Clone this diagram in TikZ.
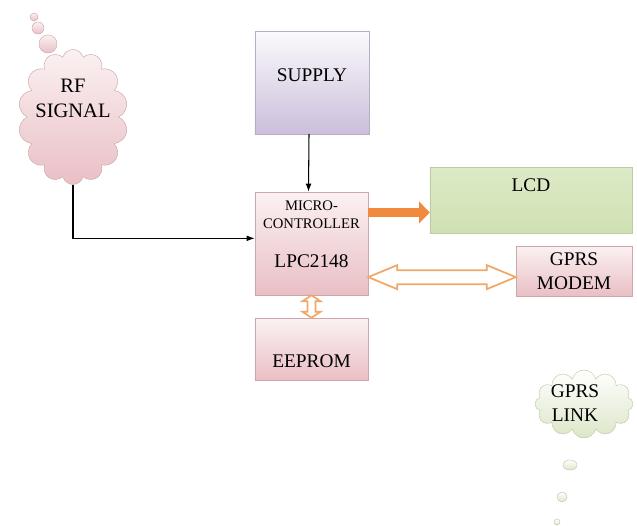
\documentclass[tikz,border=0pt]{standalone}
\usepackage{fontspec}
\setmainfont{Liberation Serif}
\newfontfamily\tnr{Liberation Serif}
\usetikzlibrary{shapes.symbols, arrows.meta, calc}
\definecolor{pinktop}{HTML}{FBF1F2}
\definecolor{pinkbot}{HTML}{E9BFC5}
\definecolor{pinkline}{HTML}{C9A9AC}
\definecolor{lavtop}{HTML}{FBFAFC}
\definecolor{lavbot}{HTML}{CBBEDB}
\definecolor{lavline}{HTML}{B8AEC4}
\definecolor{lcdtop}{HTML}{DCEAC6}
\definecolor{lcdmid}{HTML}{EEF5E2}
\definecolor{lcdbot}{HTML}{CFE1B3}
\definecolor{greenline}{HTML}{BCCBA6}
\definecolor{cloudgreen}{HTML}{DCE6C8}
\definecolor{arrorange}{HTML}{EF8A3E}
\definecolor{hollow}{HTML}{F0A868}

\tikzset{
  blk/.style={draw=pinkline, top color=pinktop, bottom color=pinkbot, inner sep=0pt,
    font=\tnr\fontsize{16.5}{20}\selectfont, align=center},
  txt/.style={anchor=north, inner sep=0pt, font=\tnr\fontsize{16.5}{20}\selectfont, align=center},
  wire/.style={-{Latex[length=7pt,width=5pt]}, line width=0.9pt},
  fat/.style={draw=arrorange, line width=8pt, -{Triangle[length=9pt,width=18pt]}},
  hollowarr/.style={draw=hollow, line width=1.5pt, fill=white, line join=miter},
  pinkcloud/.style={cloud, cloud puffs=14, draw=pinkline, top color=pinktop, bottom color=pinkbot},
  greencloud/.style={cloud, cloud puffs=12, draw=greenline, top color=white, bottom color=cloudgreen}
}

\begin{document}
\begin{tikzpicture}[x=0.03cm, y=-0.03cm]
  \useasboundingbox (0,0) rectangle (637,525);

  \node[pinkcloud, aspect=0.81, minimum width=3.3cm, minimum height=4.05cm,
    label={[txt,font=\tnr\fontsize{17.5}{21}\selectfont,yshift=-0.9cm]north:{RF\\SIGNAL}}] (rf) at (73,117) {};
  \draw[draw=pinkline, top color=pinktop, bottom color=pinkbot] (48,44) circle (9);
  \draw[draw=pinkline, top color=pinktop, bottom color=pinkbot] (38,28) circle (6);
  \draw[draw=pinkline, top color=pinktop, bottom color=pinkbot] (34,17) circle (4);

  \node[blk, draw=lavline, top color=lavtop, bottom color=lavbot, minimum width=3.42cm, minimum height=3.09cm,
    label={[txt,yshift=-1.14cm]north:SUPPLY}] (sup) at (312,82.5) {};
  \node[blk, minimum width=3.39cm, minimum height=3.09cm,
    label={[txt,font=\tnr\fontsize{12.5}{15}\selectfont,yshift=-0.27cm]north:{MICRO-\\CONTROLLER}},
    label={[txt,yshift=-1.89cm]north:LPC2148}] (mc) at (311.5,243.5) {};
  \node[blk, minimum width=3.39cm, minimum height=1.86cm,
    label={[txt,anchor=south,yshift=0.36cm]south:EEPROM}] (ee) at (311.5,349) {};
  \node[blk, draw=greenline, top color=lcdtop, middle color=lcdmid, bottom color=lcdbot,
    minimum width=6.06cm, minimum height=1.98cm,
    label={[txt,yshift=-0.36cm]north:LCD}] (lcd) at (531,200) {};
  \node[blk, minimum width=3.48cm, minimum height=1.5cm] (gprs) at (574,271) {GPRS\\MODEM};

  \node[greencloud, aspect=1.44, minimum width=2.94cm, minimum height=2.04cm,
    label={[txt,xshift=-0.27cm,yshift=-0.45cm]north:{GPRS\\LINK}}] (link) at (584,404) {};
  \draw[draw=greenline, top color=white, bottom color=cloudgreen] (570,465) ellipse (7 and 5);
  \draw[draw=greenline, top color=white, bottom color=cloudgreen] (562,497) circle (5);
  \draw[draw=greenline, top color=white, bottom color=cloudgreen] (557,522) circle (3);

  \coordinate (w1) at ($(mc.north west)!0.45!(mc.south west)$);
  \coordinate (f1) at ($(mc.north east)!0.2!(mc.south east)$);
  \coordinate (h1) at ($(mc.south east)!0.175!(mc.north east)$);
  \coordinate (h2) at (gprs.west |- h1);

  \draw[wire] (rf.south) |- (w1);
  \draw[wire] ([xshift=-0.09cm]sup.south) -- ([xshift=-0.09cm]mc.north);
  \draw[fat] (f1) -- (lcd.west |- f1);
  \draw[hollowarr] (h1) -- ++(29,-12) -- ++(0,5) -- ($(h2)+(-29,-7)$) -- ++(0,-5) -- (h2)
    -- ++(-29,12) -- ++(0,-5) -- ($(h1)+(29,7)$) -- ++(0,5) -- cycle;
  \draw[hollowarr] (mc.south) -- ++(9,6) -- ++(-5,0) -- ($(ee.north)+(4,-6)$) -- ++(5,0) -- (ee.north)
    -- ++(-9,-6) -- ++(5,0) -- ($(mc.south)+(-4,6)$) -- ++(-5,0) -- cycle;
\end{tikzpicture}
\end{document}
